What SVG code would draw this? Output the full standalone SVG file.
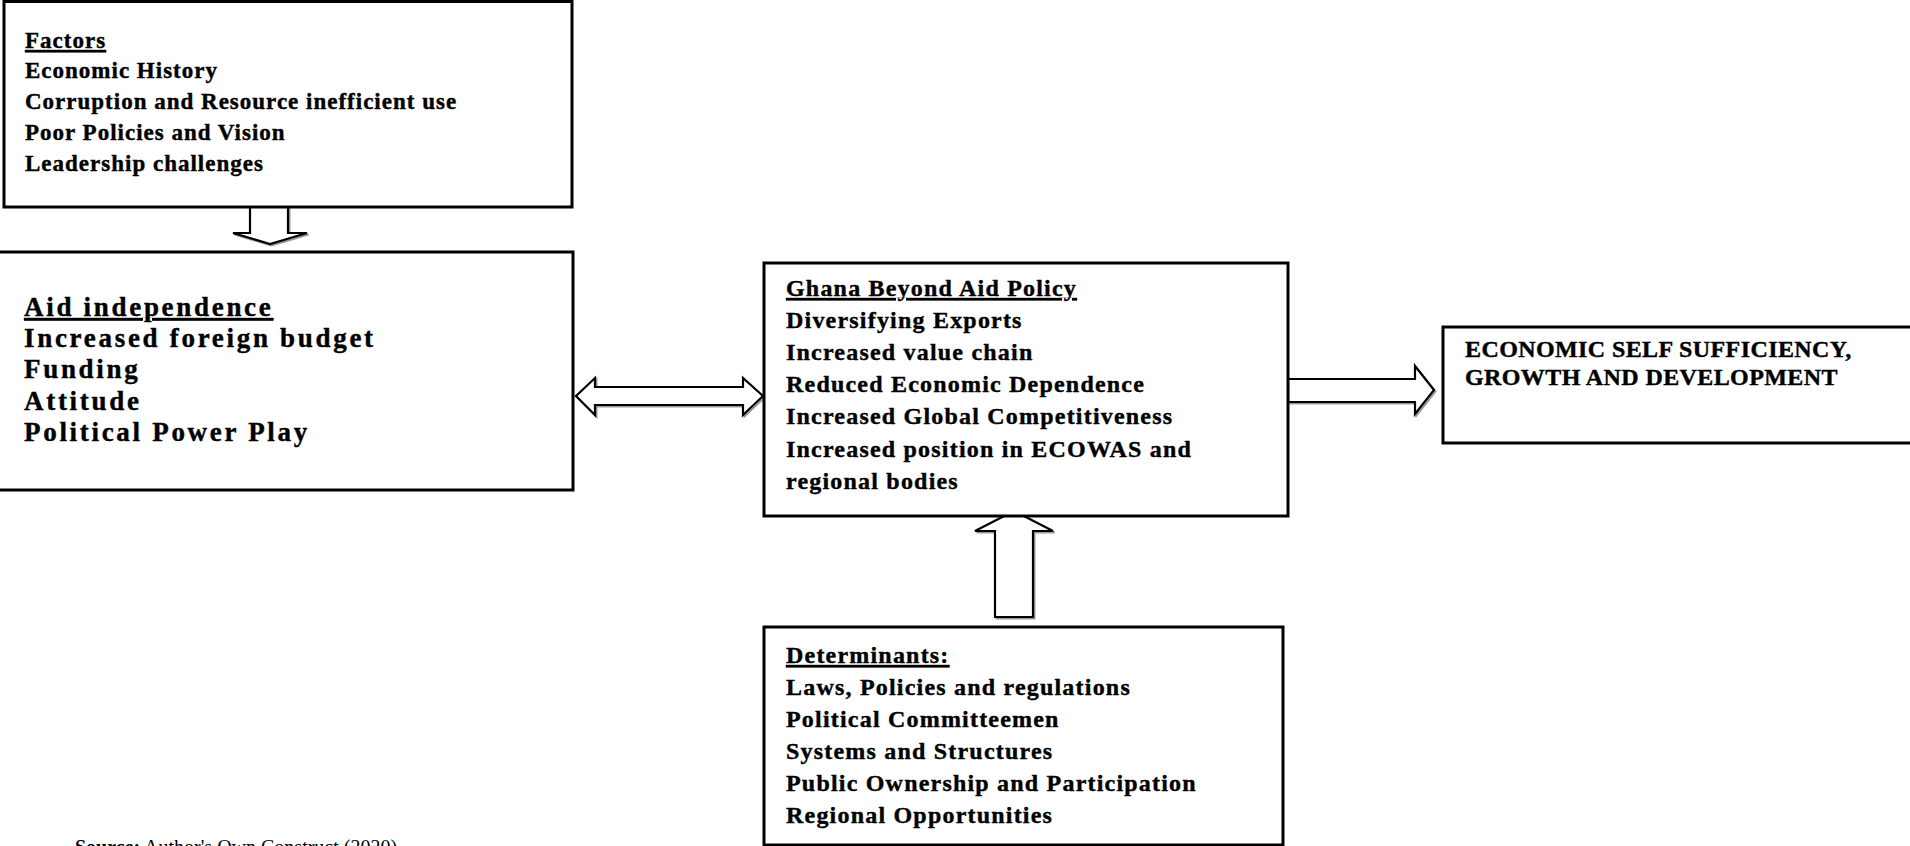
<svg xmlns="http://www.w3.org/2000/svg" width="1910" height="846" viewBox="0 0 1910 846">
<style>
.box{fill:#fff;stroke:#000;stroke-width:3}
.arr{fill:#fff;stroke:#000;stroke-width:2.2;stroke-linejoin:miter}
.shd{fill:none;stroke:#999;stroke-width:2;stroke-linejoin:miter}
.t{font-family:"Liberation Serif","Times New Roman",serif;font-weight:bold;font-size:24px;letter-spacing:1.2px;fill:#000;stroke:#000;stroke-width:0.4px}
.f{font-size:23px;letter-spacing:1px}
.aid{font-size:27px;letter-spacing:2.7px}
.eco{letter-spacing:0.4px}
.u{text-decoration:underline}
.src{font-family:"Liberation Serif","Times New Roman",serif;font-size:20px;fill:#000}
</style>
<rect width="1910" height="846" fill="#fff"/>
<g id="connectors">
<path class="shd" transform="translate(1.5,1.5)" d="M250,207 L250,233 L233,233 L270,244 L307,233 L288,233 L288,207 Z"/>
<path class="arr" d="M250,207 L250,233 L233,233 L270,244 L307,233 L288,233 L288,207 Z"/>
<path class="shd" transform="translate(1.5,1.5)" d="M576,396 L595,378 L595,387 L743,387 L743,378 L763,396 L743,415 L743,405 L595,405 L595,415 Z"/>
<path class="arr" d="M576,396 L595,378 L595,387 L743,387 L743,378 L763,396 L743,415 L743,405 L595,405 L595,415 Z"/>
<path class="shd" transform="translate(1.5,1.5)" d="M1288,379 L1415,379 L1415,366 L1434,390 L1415,414 L1415,402 L1288,402"/>
<path class="arr" d="M1288,379 L1415,379 L1415,366 L1434,390 L1415,414 L1415,402 L1288,402 Z"/>
<path class="shd" transform="translate(1.5,1.5)" d="M1014,511 L1053,531 L1033,531 L1033,617 L995,617 L995,531 L975,531 Z"/>
<path class="arr" d="M1014,511 L1053,531 L1033,531 L1033,617 L995,617 L995,531 L975,531 Z"/>
</g>
<g id="factors">
<rect class="box" x="4" y="1.5" width="568" height="205.5"/>
<text class="t f"><tspan class="u" x="25" y="48">Factors</tspan><tspan x="25" y="78">Economic History</tspan><tspan x="25" y="109">Corruption and Resource inefficient use</tspan><tspan x="25" y="140">Poor Policies and Vision</tspan><tspan x="25" y="171">Leadership challenges</tspan></text>
</g>
<g id="aid">
<rect class="box" x="-3" y="252" width="576" height="238"/>
<text class="t aid"><tspan class="u" x="24" y="316">Aid independence</tspan><tspan x="24" y="347">Increased foreign budget</tspan><tspan x="24" y="378">Funding</tspan><tspan x="24" y="410">Attitude</tspan><tspan x="24" y="441">Political Power Play</tspan></text>
</g>
<g id="ghana">
<rect class="box" x="764" y="263" width="524" height="253"/>
<text class="t"><tspan class="u" x="786" y="296">Ghana Beyond Aid Policy</tspan><tspan x="786" y="328">Diversifying Exports</tspan><tspan x="786" y="360">Increased value chain</tspan><tspan x="786" y="392">Reduced Economic Dependence</tspan><tspan x="786" y="424">Increased Global Competitiveness</tspan><tspan x="786" y="457">Increased position in ECOWAS and</tspan><tspan x="786" y="489">regional bodies</tspan></text>
</g>
<g id="economic">
<rect class="box" x="1443" y="327" width="480" height="116"/>
<text class="t eco"><tspan x="1465" y="357">ECONOMIC SELF SUFFICIENCY,</tspan><tspan x="1465" y="385">GROWTH AND DEVELOPMENT</tspan></text>
</g>
<g id="determinants">
<rect class="box" x="764" y="627" width="519" height="218"/>
<text class="t"><tspan class="u" x="786" y="663">Determinants:</tspan><tspan x="786" y="695">Laws, Policies and regulations</tspan><tspan x="786" y="727">Political Committeemen</tspan><tspan x="786" y="759">Systems and Structures</tspan><tspan x="786" y="791">Public Ownership and Participation</tspan><tspan x="786" y="823">Regional Opportunities</tspan></text>
</g>
<g id="source">
<text class="src" x="75" y="854"><tspan font-weight="bold">Source:</tspan> Author's Own Construct (2020)</text>
</g>
</svg>
